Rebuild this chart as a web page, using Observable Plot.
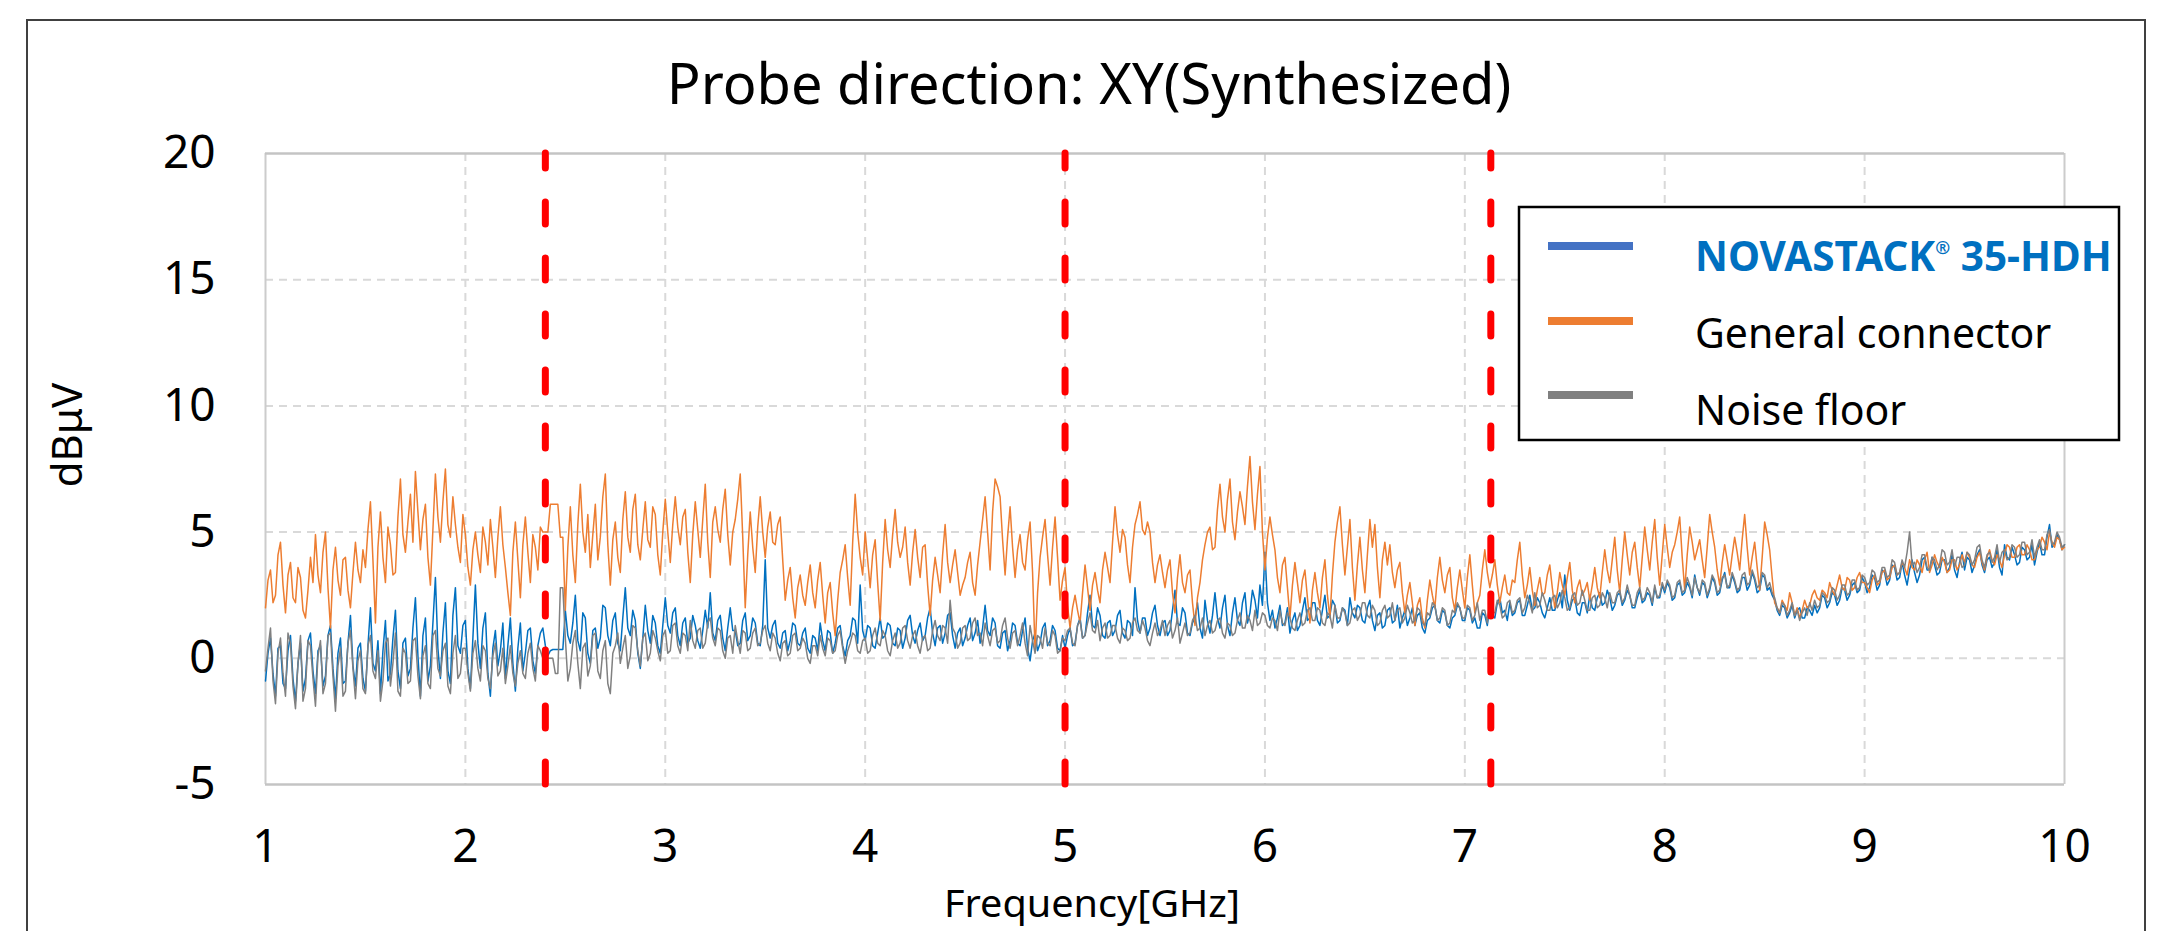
<!DOCTYPE html>
<html><head><meta charset="utf-8">
<script src="https://cdn.jsdelivr.net/npm/d3@7"></script>
<script src="https://cdn.jsdelivr.net/npm/@observablehq/plot@0.6"></script>
<style>
html,body{margin:0;padding:0;background:#fff;}
#wrap{position:relative;width:2184px;height:931px;overflow:hidden;background:#fff;font-family:"Noto Sans",sans-serif;}
#wrap > svg{position:absolute;left:0;top:0;}
</style></head><body><div id="wrap"></div>
<script>
const title = "Probe direction: XY(Synthesized)";
const xLabel = "Frequency[GHz]";
const yLabel = "dBμV";
const seriesNames = ["NOVASTACK® 35-HDH", "General connector", "Noise floor"];
const seriesColors = ["#0070C0", "#ED7D31", "#808080"];
const legendSwatchColors = ["#4472C4", "#ED7D31", "#808080"];
const xTicks = [1, 2, 3, 4, 5, 6, 7, 8, 9, 10];
const yTicks = [-5, 0, 5, 10, 15, 20];
const bandEdges = [2.4, 5.0, 7.13];
const freqStart = 1, freqEnd = 10;

// NOVASTACK 35-HDH (blue), 1 to 10 GHz, 12.5 MHz steps (one row = 0.25 GHz)
const novastack = [
 -0.9, 0.2, 0.8, -0.6, -1.5, 0.4, 0.5, -1.0, -1.2, 0.3, 0.9, -0.8, -1.7, -0.2, 0.6, -1.3, -0.8, 0.7, 1.0, -0.5,
 -1.4, 0.3, 0.5, -1.1, -0.7, 0.9, 1.3, -0.4, -1.6, 0.2, 0.8, -1.0, -0.9, 0.6, 1.7, -0.3, -1.1, 0.4, 0.6, -0.8,
 -1.3, 0.5, 2.0, -0.2, -0.5, 0.7, -1.4, 0.3, 1.5, -0.9, -0.6, 0.8, 1.9, -0.5, -1.2, 0.6, 0.8, -0.7, -0.4, 1.2,
 2.4, 0.1, -1.5, 0.9, 1.6, -0.9, -0.3, 1.4, 3.2, 0.4, -0.8, 1.0, 2.2, -0.5, -1.0, 1.7, 2.8, 0.5, 0.2, 1.3,
 1.5, -0.4, -1.2, 0.8, 2.9, 0.6, -0.4, 1.2, 1.8, -0.6, -1.5, 0.4, 1.1, -0.3, 0.3, 1.4, -0.8, 0.5, 1.6, -0.2,
 -1.3, 0.4, 1.4, -0.5, 0.2, 1.1, 1.2, -0.1, -0.6, 0.5, 1.0, 1.2, 0.5, 0.1, 0.3, 0.35, 0.35, 0.35, 0.35, 0.35,
 1.9, 0.9, 0.6, 1.4, 2.5, 0.7, 0.3, 1.8, 1.6, 0.2, -0.2, 1.1, 1.2, 0.4, 0.8, 2.1, 2.0, 0.9, 0.5, 1.5,
 1.8, 0.6, 0.3, 1.6, 2.8, 1.2, 0.9, 1.9, 1.5, 0.2, -0.4, 0.8, 2.1, 1.1, 0.6, 1.7, 1.4, 0.5, 0.2, 1.3,
 2.4, 1.3, 1.0, 1.8, 2.0, 0.9, 0.5, 1.4, 1.6, 0.6, 0.8, 1.7, 1.3, 0.7, 0.4, 1.1, 1.9, 1.2, 2.6, 1.0,
 0.7, 1.5, 1.7, 0.8, 0.3, 1.2, 2.0, 1.1, 1.1, 0.5, 0.6, 1.5, 1.8, 0.7, 0.9, 1.6, 1.4, 0.6, 0.5, 1.3,
 3.9, 1.2, 0.8, 1.3, 1.5, 0.6, 0.4, 1.0, 1.1, 0.3, 0.7, 1.4, 1.3, 0.6, 0.5, 1.0, 1.2, 0.4, 0.2, 0.9,
 0.8, 0.3, 1.4, 0.7, 0.3, 1.1, 1.0, 0.2, 0.6, 1.2, 1.3, 0.5, 0.1, 0.7, 0.9, 1.6, 1.5, 0.6, 2.9, 1.1,
 0.7, 1.3, 1.2, 0.5, 0.4, 1.0, 1.6, 0.8, 0.9, 1.4, 1.3, 0.6, 0.5, 1.2, 1.1, 0.4, 0.8, 1.5, 1.7, 0.9,
 0.6, 1.1, 1.4, 0.7, 0.9, 1.6, 2.0, 1.0, 0.5, 1.2, 1.3, 0.6, 1.0, 1.7, 1.8, 0.9, 0.4, 1.0, 1.2, 0.5,
 0.8, 1.3, 1.6, 0.7, 1.0, 1.5, 0.6, 1.2, 2.1, 1.1, 0.9, 1.6, 1.4, 0.5, 0.4, 1.0, 1.1, 0.3, 0.7, 1.4,
 1.3, 0.6, 0.5, 1.1, 1.6, 0.4, -0.1, 0.7, 1.0, 0.3, 0.6, 1.2, 1.4, 0.5, 0.7, 1.3, 1.1, 0.4, 0.3, 0.9,
 0.4, 0.9, 1.2, 0.5, 0.6, 1.3, 1.6, 0.8, 0.9, 1.8, 2.5, 1.3, 1.2, 2.0, 1.7, 0.9, 0.8, 1.4, 1.5, 0.9,
 1.1, 1.7, 1.9, 1.0, 0.8, 1.5, 1.4, 0.9, 2.8, 1.5, 1.0, 1.6, 1.6, 0.9, 1.2, 1.8, 2.1, 1.3, 0.9, 1.4,
 1.5, 0.9, 1.1, 1.9, 2.7, 1.4, 1.3, 2.0, 1.8, 1.0, 0.9, 1.4, 1.6, 2.2, 1.2, 0.8, 2.3, 1.5, 1.0, 1.7,
 2.6, 1.6, 1.2, 2.0, 2.5, 1.3, 0.9, 1.8, 2.4, 1.5, 1.3, 2.2, 2.6, 1.4, 1.8, 2.7, 2.3, 1.6, 2.9, 2.1,
 4.2, 2.2, 1.5, 1.9, 1.2, 1.6, 2.1, 1.3, 1.4, 2.0, 1.0, 1.5, 1.8, 1.1, 1.3, 1.9, 2.4, 1.5, 1.6, 2.2,
 2.2, 1.5, 1.3, 1.9, 2.5, 1.6, 1.7, 2.3, 2.1, 1.4, 1.5, 2.0, 1.9, 1.3, 2.4, 1.8, 1.6, 2.1, 2.0, 1.5,
 1.4, 2.0, 2.3, 1.5, 1.1, 1.7, 1.8, 1.2, 1.3, 1.9, 2.0, 1.4, 1.5, 2.1, 1.2, 1.6, 1.9, 1.3, 1.6, 2.0,
 1.3, 1.7, 1.8, 1.2, 1.0, 1.5, 1.6, 2.0, 2.1, 1.5, 1.4, 1.9, 1.8, 1.3, 1.2, 1.6, 1.7, 2.1, 2.0, 1.5,
 1.5, 2.0, 1.9, 1.4, 1.6, 1.2, 1.2, 1.8, 1.7, 1.3, 2.1, 1.7, 1.6, 2.2, 2.4, 1.8, 1.9, 1.5, 2.2, 1.7,
 1.8, 2.2, 2.3, 1.7, 1.7, 2.1, 2.5, 1.9, 2.0, 2.4, 2.2, 1.8, 1.6, 2.0, 2.4, 1.9, 1.9, 2.3, 2.6, 2.0,
 3.3, 2.3, 1.9, 2.3, 2.4, 1.8, 1.7, 2.2, 2.2, 1.8, 2.5, 2.0, 1.9, 2.4, 2.6, 2.1, 2.2, 2.7, 2.4, 1.9,
 2.1, 2.5, 2.6, 2.1, 2.3, 2.7, 2.5, 2.0, 2.0, 2.4, 2.7, 2.2, 2.3, 2.6, 2.5, 2.1, 2.8, 2.4, 2.4, 2.9,
 2.6, 3.0, 2.8, 2.3, 2.4, 2.9, 3.0, 2.5, 2.6, 3.0, 2.8, 2.4, 3.3, 2.8, 2.5, 3.0, 2.9, 2.4, 2.7, 3.2,
 3.0, 2.5, 2.6, 3.1, 3.4, 2.8, 2.8, 3.3, 3.0, 2.6, 2.7, 3.2, 3.2, 2.7, 2.9, 3.4, 3.1, 2.6, 2.7, 3.3,
 3.2, 2.7, 2.8, 2.5, 2.3, 1.9, 1.7, 2.1, 2.0, 1.6, 1.8, 2.1, 1.6, 1.9, 2.0, 1.6, 1.6, 2.0, 1.9, 1.7,
 2.1, 1.8, 2.0, 2.5, 2.4, 2.0, 2.2, 2.6, 2.5, 2.1, 2.3, 2.8, 2.7, 2.3, 2.5, 2.9, 3.0, 2.6, 2.7, 3.2,
 3.0, 2.6, 2.8, 3.3, 3.2, 2.7, 2.9, 3.5, 3.4, 2.9, 3.1, 3.7, 3.6, 3.1, 3.2, 3.8, 3.3, 2.9, 3.5, 3.9,
 3.4, 3.0, 3.3, 3.9, 4.0, 3.5, 3.5, 4.0, 3.7, 3.3, 3.4, 3.9, 3.9, 3.4, 3.6, 4.1, 3.5, 3.2, 3.8, 4.2,
 3.5, 4.0, 3.9, 3.4, 3.7, 4.1, 4.3, 3.7, 3.4, 3.9, 4.0, 3.6, 3.8, 4.3, 3.6, 3.3, 4.5, 4.0, 3.9, 4.4,
 4.1, 3.7, 3.8, 4.4, 4.3, 3.9, 4.0, 4.5, 3.7, 4.2, 4.6, 4.1, 4.1, 4.8, 5.3, 4.4, 4.5, 4.9, 4.7, 4.3,
 4.5
];

// General connector (orange)
const general = [
 2.0, 3.1, 3.5, 2.2, 2.5, 4.1, 4.6, 2.9, 1.8, 3.3, 3.8, 2.4, 2.2, 3.6, 3.2, 1.9, 1.6, 2.7, 4.0, 3.0,
 4.9, 3.3, 2.6, 4.2, 5.0, 2.8, 1.2, 3.5, 4.4, 3.1, 2.5, 3.9, 4.0, 2.7, 2.0, 3.4, 4.6, 3.5, 3.0, 4.3,
 3.6, 5.1, 6.2, 3.9, 1.4, 4.4, 5.8, 4.0, 3.0, 5.2, 4.5, 3.3, 3.4, 5.6, 7.1, 4.9, 4.2, 5.4, 6.5, 4.6,
 7.4, 5.8, 4.3, 5.5, 6.1, 4.0, 2.9, 5.1, 7.3, 5.6, 4.6, 6.2, 7.5, 5.3, 4.8, 6.4, 5.3, 4.4, 3.8, 5.7,
 4.9, 3.6, 2.9, 4.3, 5.0, 4.1, 3.4, 5.2, 4.6, 3.7, 5.5, 4.4, 3.2, 4.8, 6.0, 4.5, 3.6, 2.6, 1.7, 4.2,
 5.4, 3.9, 2.4, 4.5, 5.6, 4.2, 3.0, 4.9, 4.4, 3.5, 5.2, 5.0, 5.0, 5.0, 6.1, 6.1, 6.1, 6.1, 4.8, 4.8,
 1.9, 4.4, 6.0, 4.1, 3.0, 5.3, 6.9, 5.0, 4.2, 5.7, 3.6, 4.9, 6.1, 3.9, 4.8, 6.4, 7.3, 4.5, 2.9, 4.7,
 5.4, 4.0, 3.4, 5.5, 6.6, 4.8, 4.2, 5.9, 6.5, 4.5, 3.9, 5.1, 6.2, 4.7, 4.4, 6.0, 5.7, 4.1, 3.3, 5.0,
 6.3, 5.0, 3.8, 5.3, 6.4, 5.2, 4.5, 5.6, 5.9, 4.2, 3.0, 4.9, 6.2, 5.1, 4.0, 5.5, 6.9, 4.6, 3.2, 5.4,
 6.0, 5.1, 4.6, 5.9, 6.7, 4.9, 3.7, 5.0, 5.5, 6.3, 7.3, 4.8, 2.0, 4.1, 5.8, 4.4, 3.4, 5.2, 6.4, 5.0,
 4.0, 5.2, 5.8, 4.6, 4.5, 5.3, 5.6, 3.9, 2.3, 3.1, 3.6, 2.4, 1.6, 2.8, 3.3, 2.5, 2.1, 3.0, 3.7, 2.6,
 2.0, 3.1, 3.8, 2.5, 1.4, 2.6, 3.0, 1.8, 0.9, 2.3, 3.4, 3.9, 4.5, 3.2, 2.1, 4.6, 6.5, 5.0, 4.0, 3.3,
 5.0, 3.9, 2.8, 4.1, 4.7, 3.0, 1.5, 3.8, 5.5, 4.3, 3.6, 4.9, 5.9, 4.6, 4.0, 4.4, 5.2, 3.8, 2.9, 4.2,
 5.1, 4.0, 3.2, 4.4, 4.5, 2.9, 1.7, 3.1, 4.0, 3.3, 2.6, 4.1, 5.3, 3.8, 3.0, 3.7, 4.3, 3.4, 2.5, 2.9,
 3.2, 3.8, 4.2, 3.0, 2.5, 3.7, 4.6, 5.5, 6.4, 5.0, 3.5, 5.8, 7.1, 6.8, 6.4, 4.7, 3.3, 4.8, 6.0, 4.4,
 3.2, 4.3, 4.9, 3.8, 3.5, 4.7, 5.4, 3.4, 0.3, 2.6, 4.0, 4.8, 5.5, 4.1, 2.9, 4.4, 5.6, 4.0, 2.3, 3.1,
 3.6, 2.1, 1.2, 2.0, 2.5, 1.9, 1.4, 2.6, 3.7, 2.8, 1.9, 2.9, 3.4, 2.7, 2.2, 3.5, 4.2, 3.6, 3.0, 4.6,
 6.0, 4.9, 4.2, 5.1, 4.8, 3.7, 3.0, 4.4, 5.3, 5.7, 6.2, 5.1, 4.9, 5.4, 5.0, 3.8, 3.0, 3.7, 4.1, 3.4,
 2.8, 3.5, 3.9, 2.6, 1.8, 3.2, 4.1, 3.0, 2.6, 3.3, 3.5, 2.2, 1.3, 2.4, 3.0, 3.9, 4.5, 5.0, 5.2, 4.3,
 4.4, 5.9, 6.9, 5.6, 5.0, 6.3, 7.1, 5.4, 4.7, 5.8, 6.6, 6.0, 5.3, 6.8, 8.0, 6.2, 5.1, 6.5, 7.6, 5.0,
 3.5, 4.8, 5.6, 4.9, 4.3, 3.2, 2.6, 3.7, 4.0, 2.8, 1.6, 2.9, 3.8, 3.0, 2.2, 3.1, 3.5, 2.4, 1.4, 2.7,
 3.4, 2.6, 2.0, 3.2, 3.9, 2.5, 1.6, 3.3, 4.6, 5.4, 6.0, 4.5, 3.3, 4.4, 5.5, 3.6, 2.3, 3.7, 4.8, 3.5,
 2.6, 4.1, 5.5, 4.4, 5.3, 3.6, 2.4, 3.9, 4.6, 3.7, 4.5, 3.4, 2.8, 3.5, 3.8, 2.6, 1.8, 2.5, 3.0, 2.2,
 1.3, 2.1, 2.4, 1.6, 1.2, 2.3, 3.1, 2.5, 2.0, 3.2, 4.0, 3.1, 2.6, 3.3, 3.6, 2.4, 1.9, 2.8, 3.5, 2.7,
 2.0, 3.2, 4.1, 2.9, 1.8, 2.2, 2.5, 3.5, 4.3, 3.4, 2.8, 3.3, 3.9, 2.9, 2.2, 2.8, 3.3, 2.6, 2.5, 3.1,
 3.0, 3.9, 4.6, 3.3, 2.4, 2.9, 3.6, 2.7, 2.1, 2.7, 3.2, 2.5, 2.6, 3.3, 3.7, 2.8, 2.0, 2.6, 3.4, 2.9,
 2.5, 3.2, 3.8, 2.7, 2.2, 2.8, 3.1, 2.5, 2.7, 3.0, 2.3, 2.9, 3.6, 2.8, 2.4, 3.4, 4.3, 3.5, 3.0, 3.9,
 4.8, 3.5, 2.6, 3.9, 5.0, 4.1, 3.3, 4.2, 4.6, 3.6, 2.8, 4.0, 5.2, 4.3, 3.5, 4.6, 5.5, 4.0, 2.9, 4.1,
 5.3, 4.4, 3.6, 4.2, 4.5, 5.0, 5.6, 4.0, 2.7, 4.1, 5.2, 4.6, 3.9, 4.3, 4.7, 3.9, 3.2, 4.4, 5.7, 5.0,
 4.4, 3.5, 2.9, 3.8, 4.5, 3.9, 3.3, 4.1, 4.8, 4.2, 3.5, 4.7, 5.7, 4.4, 3.3, 4.0, 4.6, 3.6, 2.7, 4.0,
 5.4, 4.9, 4.3, 3.2, 2.2, 2.0, 1.8, 2.3, 2.1, 1.9, 2.6, 2.2, 1.7, 2.0, 1.6, 1.9, 2.3, 2.0, 2.1, 2.5,
 2.7, 2.4, 2.3, 2.7, 2.6, 2.4, 3.0, 2.7, 2.5, 2.9, 3.3, 2.8, 2.7, 3.2, 3.1, 2.7, 2.8, 3.2, 3.4, 3.0,
 3.0, 2.8, 2.6, 3.1, 3.3, 2.9, 3.0, 3.4, 3.5, 3.1, 3.2, 3.6, 3.7, 3.3, 3.4, 3.8, 3.6, 3.3, 3.9, 3.6,
 3.5, 3.9, 3.7, 3.4, 3.9, 4.2, 3.4, 3.7, 4.1, 3.8, 3.6, 4.0, 3.8, 3.4, 3.5, 3.9, 3.9, 3.5, 3.7, 4.1,
 3.8, 4.2, 4.0, 3.7, 3.6, 4.0, 4.2, 3.8, 3.5, 4.0, 4.3, 3.9, 3.7, 4.1, 3.9, 3.6, 4.1, 4.5, 4.4, 4.0,
 4.0, 4.4, 4.5, 4.1, 4.1, 4.5, 4.3, 3.9, 3.9, 4.3, 4.4, 4.8, 4.6, 4.3, 5.0, 4.6, 4.4, 4.8, 4.7, 4.3,
 4.4
];

// Noise floor (gray)
const noiseFloor = [
 -0.5, 0.4, 1.2, -0.9, -1.8, 0.2, 0.8, -0.6, -1.5, 1.0, 0.6, -1.1, -2.0, -0.2, 0.9, -1.7, -1.2, 0.7, 0.5, -0.8,
 -1.9, 0.1, 0.7, -1.4, -1.0, 0.9, 1.0, -0.7, -2.1, -0.3, 0.4, -1.5, -1.3, 0.6, 1.1, -0.4, -1.6, -0.1, 0.3, -1.2,
 -1.4, 0.5, 0.9, -0.5, -0.8, 0.3, -1.7, -0.9, 0.6, 0.8, -1.1, -0.2, 1.0, -1.3, -1.5, 0.4, 0.2, -1.0, -0.9, 0.7,
 0.8, -0.7, -1.6, 0.1, 0.5, -1.0, -1.2, 0.9, 1.1, -0.4, -0.7, 0.3, 0.6, -1.1, -1.4, 0.2, 0.9, -0.8, -0.6, 0.4,
 0.4, -0.6, -1.3, 0.2, 0.7, -0.4, -0.9, 0.5, 0.3, -0.8, -1.2, 0.1, 0.6, -0.7, -0.5, 0.4, -1.0, -0.3, 0.5, -0.6,
 -1.1, -0.2, 0.3, -0.6, -0.8, 0.2, 0.6, -0.4, -0.9, 0.5, 0.3, 0.0, 0.0, 0.0, 0.0, 0.0, -0.6, -0.6, 2.8, 2.8,
 0.8, -0.9, -0.4, 0.6, 1.1, -0.2, -1.2, 0.4, 0.6, -0.7, -0.3, 0.9, 1.0, -0.5, -0.8, 0.3, 0.7, -1.0, -1.4, 0.2,
 0.5, 1.0, -0.2, 0.4, 0.9, -0.4, 0.1, 1.3, 1.2, 0.3, -0.3, 0.8, 1.0, -0.1, 0.2, 1.1, 0.8, 0.3, -0.1, 0.9,
 1.1, 0.2, 0.3, 1.3, 1.4, 0.5, 0.2, 1.0, 0.9, 0.3, 1.5, 0.7, 0.4, 1.1, 1.2, 0.4, 0.6, 1.4, 1.6, 0.8,
 0.5, 1.2, 1.1, 0.3, 0.0, 0.8, 0.9, 0.2, 1.3, 0.7, 0.2, 1.1, 1.0, 0.3, 0.4, 1.0, 1.2, 0.5, 0.6, 1.1,
 1.3, 0.6, 0.3, 1.0, 0.8, 0.2, -0.1, 0.6, 0.7, 0.1, 0.2, 0.9, 1.0, 0.3, 0.4, 0.8, 0.6, 0.0, -0.2, 0.5,
 0.5, 0.1, 0.9, 0.4, 0.1, 0.8, 0.7, 0.2, 0.3, 0.9, 1.1, 0.4, -0.2, 0.3, 0.6, 1.0, 0.9, 0.3, 0.2, 0.7,
 0.8, 0.2, 0.3, 0.9, 1.2, 0.6, 0.5, 1.1, 0.9, 0.3, 0.1, 0.7, 1.0, 0.4, 0.6, 1.2, 1.3, 0.7, 0.4, 0.9,
 1.1, 0.5, 0.2, 0.8, 0.9, 0.3, 0.4, 1.1, 1.5, 0.9, 0.7, 1.3, 1.2, 0.6, 2.3, 1.2, 1.0, 0.4, 0.6, 1.2,
 1.3, 0.7, 0.8, 1.4, 1.6, 0.9, 1.0, 0.5, 1.4, 0.9, 0.5, 1.1, 1.2, 0.6, 0.7, 1.3, 1.6, 0.8, 0.4, 1.0,
 1.1, 0.5, 0.9, 1.4, 0.6, 0.1, 1.3, 0.7, 0.2, 0.9, 0.8, 0.4, 1.2, 0.6, 0.5, 1.1, 0.9, 0.2, 0.3, 0.8,
 0.7, 1.1, 1.2, 0.6, 0.5, 1.3, 1.5, 0.8, 0.9, 1.4, 1.8, 1.1, 1.0, 1.5, 0.7, 1.2, 1.4, 0.8, 0.9, 1.3,
 1.3, 0.8, 0.6, 1.2, 1.1, 0.7, 0.8, 1.4, 1.6, 1.1, 1.0, 1.5, 1.2, 0.7, 0.5, 1.0, 1.4, 0.9, 1.1, 1.5,
 0.9, 1.3, 1.5, 0.8, 1.1, 1.6, 0.6, 1.0, 1.4, 0.9, 1.0, 1.5, 1.7, 1.1, 1.2, 1.6, 0.9, 1.3, 1.5, 1.0,
 1.1, 1.5, 1.6, 1.0, 0.8, 1.4, 1.3, 0.9, 1.0, 1.5, 1.8, 1.2, 1.2, 1.7, 1.5, 1.1, 1.9, 1.3, 1.4, 1.8,
 1.7, 1.3, 1.2, 1.6, 1.5, 1.1, 1.9, 1.4, 1.3, 1.8, 1.6, 1.2, 1.1, 1.5, 1.8, 1.3, 1.4, 1.9, 2.0, 1.5,
 1.5, 2.0, 1.9, 1.4, 1.3, 1.8, 1.7, 1.2, 2.1, 1.6, 1.6, 2.0, 1.8, 1.3, 1.4, 1.9, 2.0, 1.5, 1.7, 2.2,
 2.2, 1.7, 1.6, 2.1, 1.9, 1.3, 1.4, 1.9, 2.1, 1.6, 1.7, 2.2, 1.5, 1.9, 2.0, 1.4, 1.6, 2.1, 1.8, 1.4,
 1.5, 2.0, 1.9, 1.4, 1.3, 1.8, 1.7, 2.2, 2.1, 1.5, 1.6, 2.0, 1.9, 1.3, 1.4, 1.9, 1.8, 2.2, 2.0, 1.6,
 1.6, 2.1, 2.0, 1.5, 1.7, 2.2, 1.5, 1.9, 1.9, 1.4, 2.2, 1.8, 1.8, 2.3, 2.1, 1.6, 1.7, 2.2, 2.3, 1.8,
 1.9, 2.3, 2.4, 1.8, 2.0, 2.5, 2.2, 1.8, 2.6, 2.0, 2.1, 2.6, 2.3, 1.9, 1.9, 2.4, 2.5, 2.0, 2.2, 2.7,
 2.4, 1.9, 2.0, 2.5, 2.6, 2.1, 2.2, 2.7, 2.3, 1.9, 1.9, 2.4, 2.5, 2.0, 2.1, 2.6, 2.4, 2.0, 2.6, 2.2,
 2.2, 2.6, 2.7, 2.2, 2.4, 2.9, 2.5, 2.1, 2.1, 2.6, 2.8, 2.3, 2.4, 2.8, 2.6, 2.2, 2.9, 2.4, 2.5, 3.0,
 2.7, 3.1, 2.9, 2.4, 2.5, 3.0, 3.1, 2.6, 2.7, 3.2, 2.9, 2.5, 3.2, 2.8, 2.6, 3.1, 3.0, 2.5, 2.8, 3.3,
 3.1, 2.6, 2.7, 3.2, 3.3, 2.8, 2.9, 3.4, 3.1, 2.7, 2.8, 3.3, 3.4, 2.9, 3.0, 3.5, 3.2, 2.8, 2.9, 3.4,
 3.3, 2.8, 3.0, 2.6, 2.4, 2.0, 1.8, 2.2, 2.1, 1.7, 1.9, 2.2, 1.7, 1.9, 1.5, 1.8, 2.0, 1.7, 2.2, 1.9,
 2.3, 2.0, 2.1, 2.6, 2.5, 2.2, 2.3, 2.8, 2.7, 2.3, 2.5, 2.9, 2.9, 2.5, 2.6, 3.1, 3.1, 2.7, 2.8, 3.3,
 3.2, 2.9, 3.0, 3.5, 3.4, 3.0, 3.1, 3.6, 3.6, 3.2, 3.3, 3.9, 3.8, 3.3, 3.4, 3.9, 3.6, 4.2, 5.0, 3.7,
 3.8, 3.4, 3.6, 4.1, 4.1, 3.6, 3.5, 4.0, 3.9, 3.5, 3.7, 4.3, 4.2, 3.7, 3.8, 4.3, 3.6, 4.0, 4.0, 3.6,
 3.7, 4.2, 4.1, 3.7, 3.9, 4.4, 4.5, 3.9, 3.6, 4.1, 4.2, 3.8, 4.0, 4.5, 3.8, 4.2, 4.3, 3.9, 4.0, 4.5,
 4.4, 4.0, 4.1, 4.6, 4.6, 4.1, 4.2, 4.7, 4.0, 4.4, 4.7, 4.3, 4.3, 4.9, 5.1, 4.5, 4.6, 5.0, 4.8, 4.4,
 4.5
];

function toRows(values) {
  const n = values.length;
  return values.map((v, i) => ({f: freqStart + (freqEnd - freqStart) * i / (n - 1), v}));
}
const seriesValues = [novastack, general, noiseFloor];

const chart = Plot.plot({
  width: 2184,
  height: 931,
  marginLeft: 265,
  marginRight: 120,
  marginTop: 153,
  marginBottom: 147,
  style: {fontFamily: "'Noto Sans', sans-serif", fontSize: "46px", color: "#000", background: "transparent", overflow: "visible"},
  x: {domain: [xTicks[0], xTicks[xTicks.length - 1]]},
  y: {domain: [yTicks[0], yTicks[yTicks.length - 1]]},
  marks: [
    Plot.ruleX(xTicks.slice(1, -1), {stroke: "#d9d9d9", strokeWidth: 2, strokeDasharray: "8,6"}),
    Plot.ruleY(yTicks.slice(1, -1), {stroke: "#d9d9d9", strokeWidth: 2, strokeDasharray: "8,6"}),
    Plot.ruleX([xTicks[0], xTicks[xTicks.length - 1]], {stroke: "#cccccc", strokeWidth: 2}),
    Plot.ruleY([yTicks[0], yTicks[yTicks.length - 1]], {stroke: "#c4c4c4", strokeWidth: 2.5}),
    Plot.line(toRows(seriesValues[0]), {x: "f", y: "v", stroke: seriesColors[0], strokeWidth: 1.5}),
    Plot.line(toRows(seriesValues[1]), {x: "f", y: "v", stroke: seriesColors[1], strokeWidth: 1.5}),
    Plot.line(toRows(seriesValues[2]), {x: "f", y: "v", stroke: seriesColors[2], strokeWidth: 1.5}),
    Plot.ruleX(bandEdges, {y1: yTicks[yTicks.length - 1], y2: yTicks[0], stroke: "#ff0000", strokeWidth: 7, strokeDasharray: "22,34", strokeDashoffset: 7, strokeLinecap: "round"}),
    Plot.axisX(xTicks, {tickSize: 0, tickPadding: 45, label: null, tickFormat: d => String(d)}),
    Plot.axisY(yTicks, {tickSize: 0, tickPadding: 50, label: null, tickFormat: d => String(d)})
  ]
});
const wrap = document.getElementById("wrap");
wrap.appendChild(chart);

// overlay: border, title, axis titles, legend
const ov = d3.select(wrap).append("svg")
  .attr("width", 2184).attr("height", 931)
  .style("pointer-events", "none")
  .style("font-family", "'Noto Sans', sans-serif");
ov.append("rect").attr("x", 27).attr("y", 20).attr("width", 2118).attr("height", 1000)
  .attr("fill", "none").attr("stroke", "#404040").attr("stroke-width", 2);
ov.append("text").attr("x", 1089).attr("y", 104).attr("text-anchor", "middle")
  .attr("font-size", 56).attr("fill", "#000").text(title);
ov.append("text").attr("x", 1092).attr("y", 917).attr("text-anchor", "middle")
  .attr("font-size", 38).attr("textLength", 296).attr("lengthAdjust", "spacingAndGlyphs")
  .attr("fill", "#000").text(xLabel);
ov.append("text").attr("transform", "translate(82,435) rotate(-90)").attr("text-anchor", "middle")
  .attr("font-size", 42).attr("fill", "#000").text(yLabel);

const lg = ov.append("g").attr("transform", "translate(1519,207)");
lg.append("rect").attr("width", 600).attr("height", 233).attr("fill", "#fff")
  .attr("stroke", "#000").attr("stroke-width", 2.5);
const swY = [39, 114, 188];
const txY = [64, 141, 218];
seriesNames.forEach((name, i) => {
  lg.append("line").attr("x1", 29).attr("x2", 114).attr("y1", swY[i]).attr("y2", swY[i])
    .attr("stroke", legendSwatchColors[i]).attr("stroke-width", 8);
  const t = lg.append("text").attr("x", 176).attr("y", txY[i]).attr("font-size", 41).attr("fill", "#000");
  if (name.includes("®")) {
    const [a, b] = name.split("®");
    t.attr("font-weight", "bold").attr("fill", "#0070C0").attr("font-size", 40.5);
    t.append("tspan").text(a);
    t.append("tspan").attr("font-size", 18).attr("dy", -17).text("®");
    t.append("tspan").attr("dy", 17).text(b);
  } else {
    t.text(name);
  }
});
</script>
</body></html>
